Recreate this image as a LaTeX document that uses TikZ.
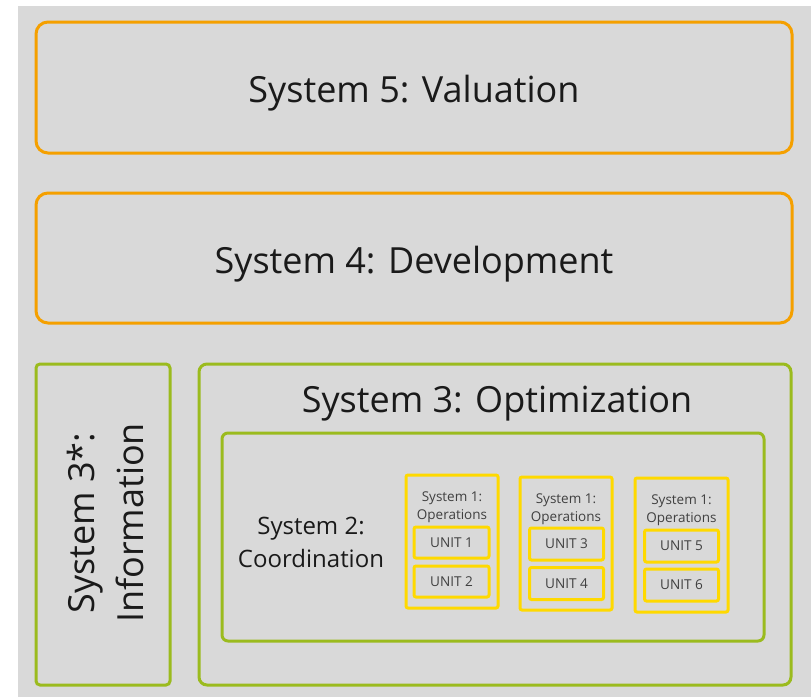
\documentclass[tikz,border=0pt]{standalone}
\usepackage{fontspec}
\setmainfont{Open Sans}
\definecolor{bggray}{RGB}{217,217,217}
\definecolor{vsmorange}{RGB}{245,160,0}
\definecolor{vsmgreen}{RGB}{155,187,30}
\definecolor{vsmyellow}{RGB}{255,217,0}
\definecolor{txtdark}{RGB}{26,26,26}
\definecolor{txtgray}{RGB}{64,64,64}
\begin{document}
\begin{tikzpicture}[x=1pt,y=-1pt]
        \tikzstyle{every node}=[inner sep=0pt, outer sep=0pt, text=txtdark]
        \tikzstyle{sysbox}=[draw=vsmorange, line width=3pt, rounded corners=12pt]
        \tikzstyle{greenbox}=[draw=vsmgreen, line width=3pt, rounded corners=8pt]
        \tikzstyle{opsbox}=[draw=vsmyellow, line width=3pt, rounded corners=2pt, minimum width=92pt, minimum height=133pt]
        \tikzstyle{unitbox}=[draw=vsmyellow, line width=3pt, rounded corners=2pt, minimum width=74pt, minimum height=31pt, font=\fontsize{13.6}{16}\selectfont, text=txtgray]
        \tikzstyle{opslabel}=[below=17pt, align=center, font=\fontsize{13.5}{18}\selectfont, text=txtgray]
        \useasboundingbox (0,0) rectangle (811,697);
        \fill[bggray] (18,6) rectangle (811,697);
        % upper systems
        \node[sysbox, minimum width=756pt, minimum height=131pt] (s5) at (414,87.5) {};
        \node[font=\fontsize{36}{40}\selectfont] (s5label) at (414,93) {System 5: Valuation};
        \node[sysbox, minimum width=756pt, minimum height=130pt] (s4) at (414,258) {};
        \node[font=\fontsize{36}{40}\selectfont] (s4label) at (414,264) {System 4: Development};
        % system 3* and 3
        \node[greenbox, rounded corners=4pt, minimum width=134pt, minimum height=321pt] (s3star) at (103,524.5) {};
        \node[rotate=90, align=center, font=\fontsize{36}{49}\selectfont] (s3starlabel) at (105,523) {System 3*:\\Information};
        \node[greenbox, minimum width=592pt, minimum height=321pt] (s3) at (495,524.5) {};
        \node[font=\fontsize{36}{40}\selectfont] (s3label) at (497,404) {System 3: Optimization};
        \node[greenbox, rounded corners=6pt, minimum width=542pt, minimum height=208pt] (s2) at (493,537) {};
        \node[align=center, font=\fontsize{24}{33}\selectfont] (s2label) at (311,542) {System 2:\\Coordination};
        % system 1 groups
        \node[opsbox] (ops1) at (452,541.5) {};
        \node[opsbox] (ops2) at (566,543.5) {};
        \node[opsbox, minimum width=93pt, minimum height=134pt] (ops3) at (681.5,545) {};
        \node[opslabel] at (ops1.north) {System 1:\\Operations};
        \node[opslabel] at (ops2.north) {System 1:\\Operations};
        \node[opslabel] at (ops3.north) {System 1:\\Operations};
        \node[unitbox, minimum width=75pt] (unit1) at (451.5,542.5) {UNIT 1};
        \node[unitbox, minimum width=75pt] (unit2) at (451.5,581.5) {UNIT 2};
        \node[unitbox, minimum height=32pt] (unit3) at (566.5,544) {UNIT 3};
        \node[unitbox, minimum height=32pt] (unit4) at (566.5,583.5) {UNIT 4};
        \node[unitbox, minimum height=32pt] (unit5) at (681.5,546) {UNIT 5};
        \node[unitbox, minimum height=32pt] (unit6) at (681.5,585) {UNIT 6};
    \end{tikzpicture}
\end{document}
